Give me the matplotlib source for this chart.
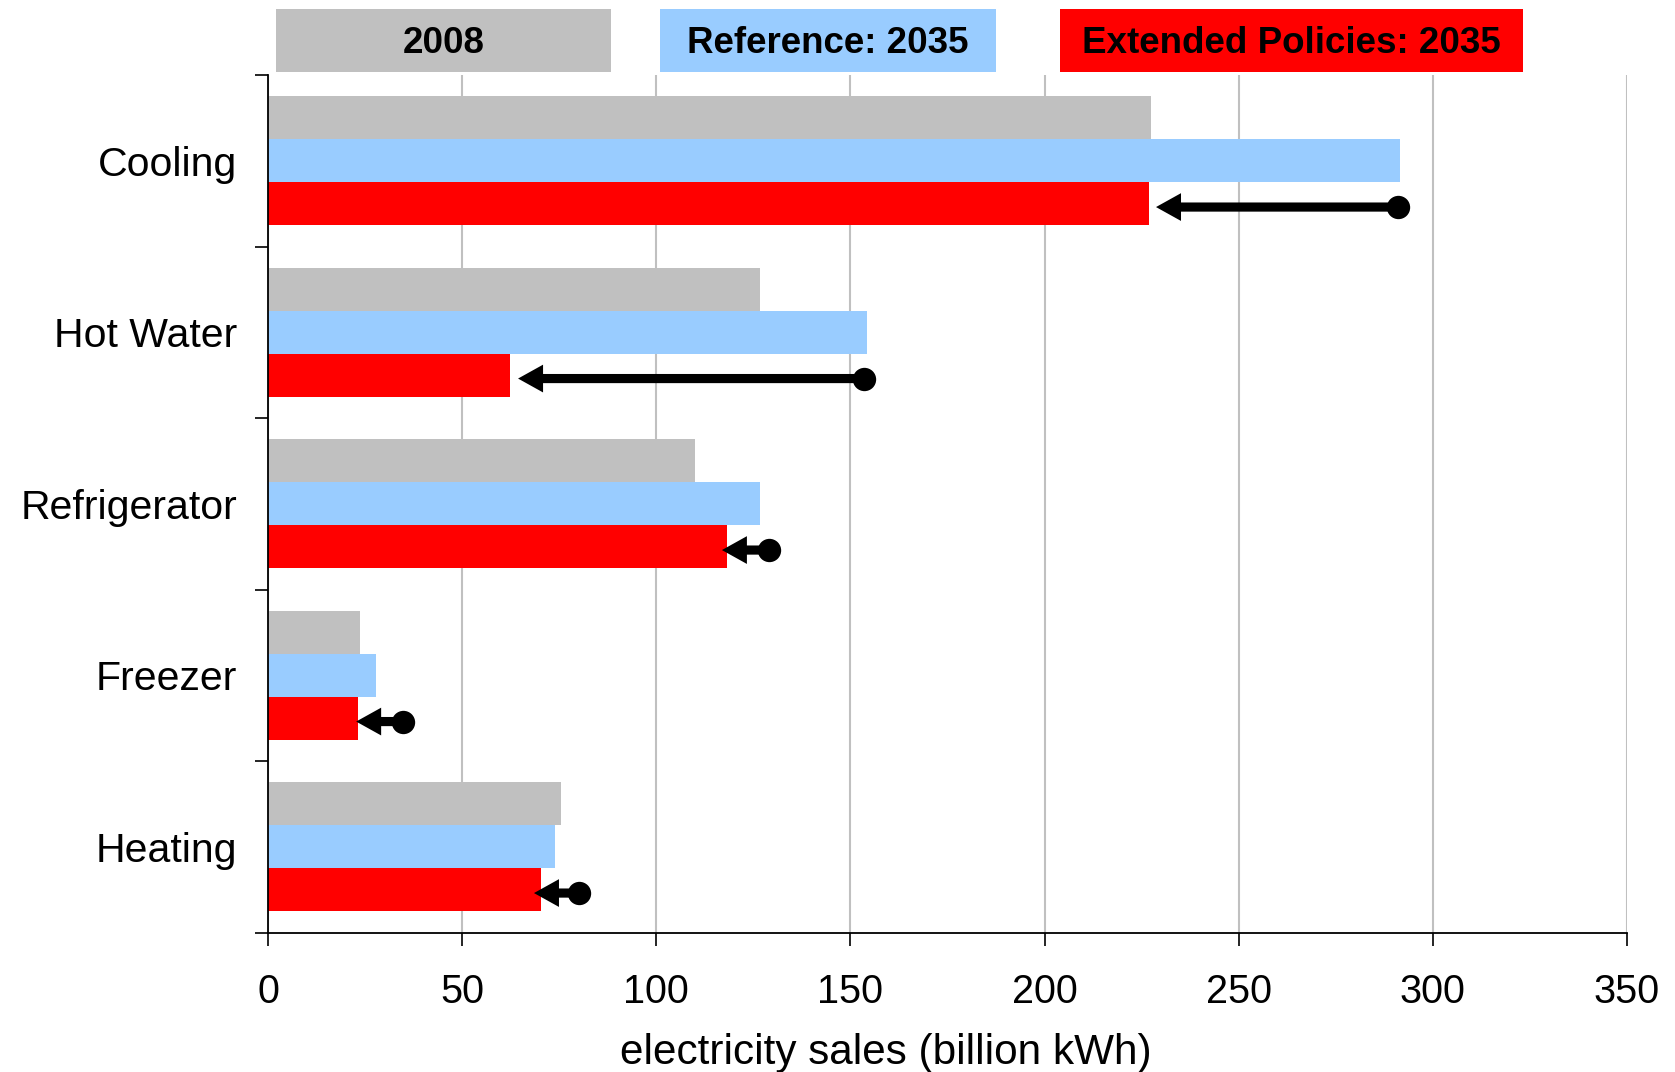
import matplotlib
matplotlib.use("Agg")
import matplotlib.pyplot as plt
from matplotlib.patches import Rectangle, FancyArrowPatch
import numpy as np

plt.rcParams['font.family'] = ['Liberation Sans', 'DejaVu Sans']

# End uses, top to bottom
categories = ['Cooling', 'Hot Water', 'Refrigerator', 'Freezer', 'Heating']

# Electricity sales, billion kWh
sales_2008 = [227.4, 126.8, 109.9, 23.6, 75.5]
reference_2035 = [291.5, 154.2, 126.8, 27.8, 73.9]
extended_2035 = [227.0, 62.4, 118.2, 23.1, 70.3]

# Savings arrows: dot end and arrowhead tip
arrow_from = [291.0, 153.4, 129.0, 34.8, 80.2]
arrow_to = [228.7, 64.4, 116.9, 22.7, 68.5]

series_labels = ['2008', 'Reference: 2035', 'Extended Policies: 2035']
series_colors = ['#C0C0C0', '#99CCFF', '#FF0000']

x_ticks = [0, 50, 100, 150, 200, 250, 300, 350]
x_label = 'electricity sales (billion kWh)'

W, H = 1675, 1072
fig = plt.figure(figsize=(W / 100, H / 100), dpi=100)
ax_left, ax_right, ax_top, ax_bottom = 268, 1627, 75, 932.5
ax = fig.add_axes([ax_left / W, 1 - ax_bottom / H,
                   (ax_right - ax_left) / W, (ax_bottom - ax_top) / H])

y = np.arange(len(categories))
bh = 0.25
ax.barh(y - bh, sales_2008, height=bh, color=series_colors[0], zorder=2)
ax.barh(y, reference_2035, height=bh, color=series_colors[1], zorder=2)
ax.barh(y + bh, extended_2035, height=bh, color=series_colors[2], zorder=2)

for yi, start, end in zip(y, arrow_from, arrow_to):
    ya = yi + bh + 0.02
    arrow = FancyArrowPatch((start, ya), (end, ya),
                            arrowstyle='simple,head_length=0.9,head_width=1.0,tail_width=0.33',
                            mutation_scale=20, color='black', lw=0,
                            shrinkA=0, shrinkB=0, zorder=4)
    ax.add_patch(arrow)
    ax.plot([start], [ya], 'o', color='black', ms=16.8, mew=0, zorder=5)

ax.set_xlim(0, 350)
ax.set_ylim(len(categories) - 0.5, -0.5)

ax.set_xticks(x_ticks)
ax.set_xticklabels([str(v) for v in x_ticks], fontsize=28.5)
ax.tick_params(axis='x', direction='out', length=9.5, width=1.2, pad=20, color='black')

ax.set_yticks(y)
ax.set_yticklabels(categories, fontsize=29.5)
ax.set_yticks(np.arange(-0.5, len(categories), 1.0), minor=True)
ax.tick_params(axis='y', which='major', length=0, pad=22)
ax.tick_params(axis='y', which='minor', direction='out', length=9.5, width=1.2, color='black')

ax.xaxis.grid(True, color='#C0C0C0', lw=1.5)
ax.set_axisbelow(True)
for s in ['top', 'right']:
    ax.spines[s].set_visible(False)
for s in ['left', 'bottom']:
    ax.spines[s].set_linewidth(1.3)
    ax.spines[s].set_color('black')
    ax.spines[s].set_zorder(6)

ax.set_xlabel(x_label, fontsize=30.4)
ax.xaxis.set_label_coords(0.4545, -0.141)
ax.xaxis.label.set_verticalalignment('center')

# Legend boxes across the top
legend_boxes = [(275.6, 611.0), (660.0, 995.6), (1059.6, 1523.3)]
box_top, box_bottom = 8.5, 71.6
for (x0, x1), label, color in zip(legend_boxes, series_labels, series_colors):
    fig.add_artist(Rectangle((x0 / W, 1 - box_bottom / H), (x1 - x0) / W,
                             (box_bottom - box_top) / H, transform=fig.transFigure,
                             facecolor=color, edgecolor='none'))
    fig.text((x0 + x1) / 2 / W, 1 - ((box_top + box_bottom) / 2 + 3.2) / H, label,
             ha='center', va='center', fontsize=26.5, fontweight='bold', color='black')

fig.savefig('out.png', dpi=100)
